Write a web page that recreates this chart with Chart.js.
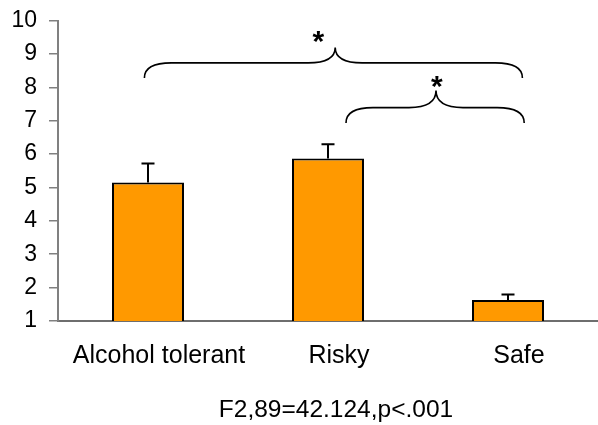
<!DOCTYPE html>
<html>
<head>
<meta charset="utf-8">
<script src="https://cdn.jsdelivr.net/npm/chart.js@4"></script>
<style>
  html, body { margin: 0; padding: 0; background: #fff; }
  #wrap { width: 598px; height: 425px; }
</style>
</head>
<body>
<div id="wrap"><canvas id="c" width="598" height="425"></canvas></div>
<script>
// ---- data ----
const categories = ['Alcohol tolerant', 'Risky', 'Safe'];
const means = [5.15, 5.87, 1.63];
const errorTops = [5.72, 6.29, 1.79];
const yMin = 1;
const yMax = 10;
const yStep = 1;
const xAxisTitle = 'F2,89=42.124,p<.001';
const significanceMark = '*';

// significance braces, in data units (category index / y value)
const braceFrom = [-0.02, 1.10];
const braceTo = [2.08, 2.09];
const bracePeakX = [1.04, 1.60];
const braceEndY = [8.28, 6.93];
const braceBarY = [8.73, 7.39];
const bracePeakY = [9.19, 7.90];
const starX = [0.947, 1.605];
const starY = [9.59, 8.25];

const FONT = "'Liberation Sans', Arial, Helvetica, sans-serif";

const errorBarPlugin = {
  id: 'errorBars',
  afterDatasetsDraw(chart) {
    const ctx = chart.ctx;
    const xs = chart.scales.x, ys = chart.scales.y;
    ctx.save();
    ctx.strokeStyle = '#000';
    ctx.lineWidth = 2;
    for (let i = 0; i < means.length; i++) {
      const x = xs.getPixelForValue(i);
      const y0 = ys.getPixelForValue(means[i]);
      const y1 = ys.getPixelForValue(errorTops[i]);
      ctx.beginPath();
      ctx.moveTo(x, y0);
      ctx.lineTo(x, y1);
      ctx.moveTo(x - 6.5, y1);
      ctx.lineTo(x + 6.5, y1);
      ctx.stroke();
    }
    ctx.restore();
  }
};

const bracePlugin = {
  id: 'braces',
  afterDraw(chart) {
    const ctx = chart.ctx;
    const xs = chart.scales.x, ys = chart.scales.y;
    ctx.save();
    ctx.strokeStyle = '#000';
    ctx.lineWidth = 1.6;
    for (let i = 0; i < braceFrom.length; i++) {
      const x1 = xs.getPixelForValue(braceFrom[i]);
      const x2 = xs.getPixelForValue(braceTo[i]);
      const xm = xs.getPixelForValue(bracePeakX[i]);
      const yE = ys.getPixelForValue(braceEndY[i]);
      const yH = ys.getPixelForValue(braceBarY[i]);
      const yP = ys.getPixelForValue(bracePeakY[i]);
      const w = 27;
      ctx.beginPath();
      ctx.moveTo(x1, yE);
      ctx.quadraticCurveTo(x1, yH, x1 + w, yH);
      ctx.lineTo(xm - w, yH);
      ctx.quadraticCurveTo(xm, yH, xm, yP);
      ctx.quadraticCurveTo(xm, yH, xm + w, yH);
      ctx.lineTo(x2 - w, yH);
      ctx.quadraticCurveTo(x2, yH, x2, yE);
      ctx.stroke();

      const fs = 30;
      ctx.font = 'bold ' + fs + 'px ' + FONT;
      ctx.fillStyle = '#000';
      ctx.textAlign = 'center';
      ctx.textBaseline = 'alphabetic';
      const sx = xs.getPixelForValue(starX[i]);
      const sy = ys.getPixelForValue(starY[i]);
      ctx.fillText(significanceMark, sx, sy + 0.57 * fs);
    }
    ctx.restore();
  }
};

// x-axis title, drawn slightly right of centre as in the reference
const axisTitlePlugin = {
  id: 'axisTitle',
  afterDraw(chart) {
    const ctx = chart.ctx;
    const xs = chart.scales.x;
    ctx.save();
    ctx.font = '24.5px ' + FONT;
    ctx.fillStyle = '#000';
    ctx.textAlign = 'center';
    ctx.textBaseline = 'alphabetic';
    ctx.fillText(xAxisTitle, (xs.left + xs.right) / 2 + 8, xs.bottom - 8);
    ctx.restore();
  }
};

new Chart(document.getElementById('c'), {
  type: 'bar',
  data: {
    labels: categories,
    datasets: [{
      data: means,
      backgroundColor: '#FF9900',
      borderColor: '#000',
      borderWidth: 2,
      borderSkipped: false,
      barPercentage: 0.4,
      categoryPercentage: 1.0
    }]
  },
  options: {
    responsive: false,
    animation: false,
    devicePixelRatio: 1,
    layout: { padding: { top: 20.5, left: 0, right: 0, bottom: 0 } },
    plugins: {
      legend: { display: false },
      tooltip: { enabled: false },
      title: { display: false }
    },
    scales: {
      x: {
        offset: true,
        grid: { display: false, drawTicks: false },
        border: { display: true, color: '#6e6e6e', width: 2 },
        ticks: {
          color: '#000',
          padding: 20,
          labelOffset: 11,
          maxRotation: 0,
          font: { family: FONT, size: 25 }
        },
        afterFit(scale) {
          scale.height = 104;
          scale.paddingLeft = 0;
          scale.paddingRight = 0;
        }
      },
      y: {
        min: yMin,
        max: yMax,
        grid: {
          drawOnChartArea: false,
          drawTicks: true,
          tickLength: 9,
          color: '#808080',
          lineWidth: 1.5
        },
        border: { display: true, color: '#808080', width: 2 },
        ticks: {
          stepSize: yStep,
          color: '#000',
          padding: 12,
          font: { family: FONT, size: 23 }
        },
        afterFit(scale) {
          scale.width = 58;
          scale.paddingTop = 0;
          scale.paddingBottom = 0;
        }
      }
    }
  },
  plugins: [errorBarPlugin, bracePlugin, axisTitlePlugin]
});
</script>
</body>
</html>
